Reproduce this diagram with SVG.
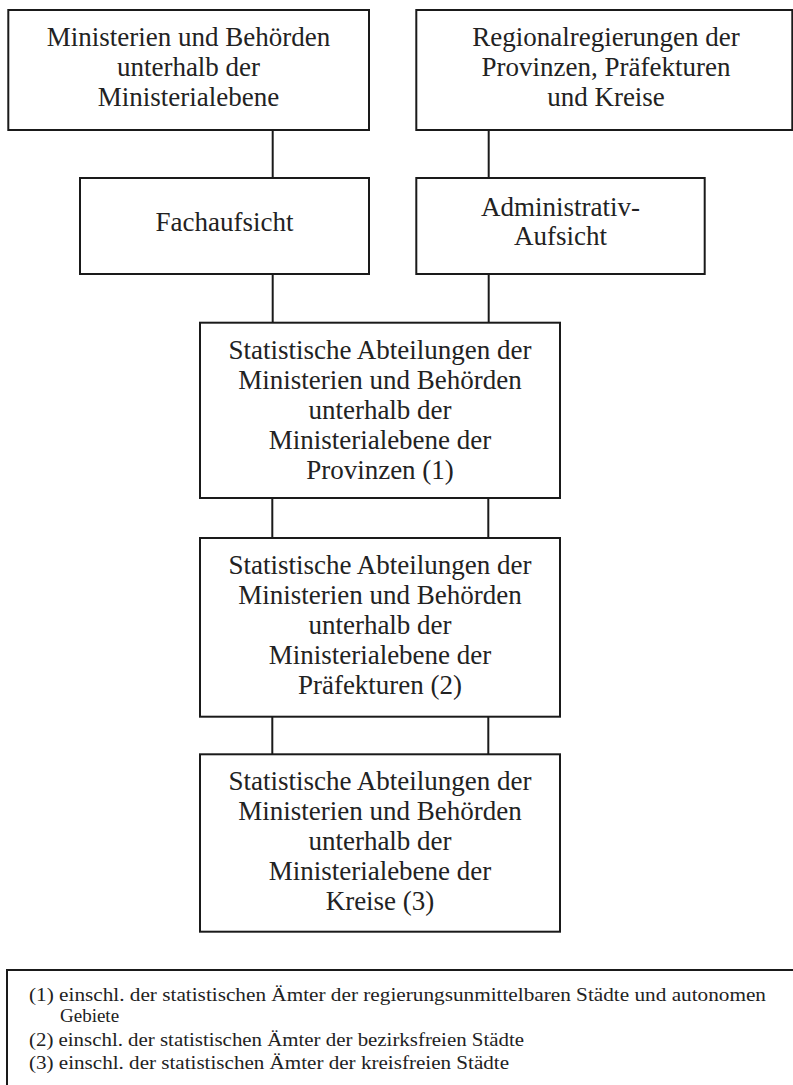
<svg xmlns="http://www.w3.org/2000/svg" width="793" height="1085" viewBox="0 0 793 1085">
<style>
.box{fill:#fff;stroke:#1a1a1a;stroke-width:2}
.t{font-family:"Liberation Serif","Times New Roman",serif;font-size:27px;fill:#222;text-anchor:middle}
.fn{font-family:"Liberation Serif","Times New Roman",serif;font-size:19px;fill:#222}
.c{stroke:#1a1a1a;stroke-width:2;fill:none}
</style>
<rect width="793" height="1085" fill="#fff"/>
<g id="connectors">
<line class="c" x1="272.7" y1="130" x2="272.7" y2="178"/>
<line class="c" x1="488.7" y1="130" x2="488.7" y2="178"/>
<line class="c" x1="272.7" y1="274" x2="272.7" y2="322.7"/>
<line class="c" x1="488.7" y1="274" x2="488.7" y2="322.7"/>
<line class="c" x1="272.3" y1="498" x2="272.3" y2="538"/>
<line class="c" x1="488.3" y1="498" x2="488.3" y2="538"/>
<line class="c" x1="272.3" y1="716.7" x2="272.3" y2="754.3"/>
<line class="c" x1="488.3" y1="716.7" x2="488.3" y2="754.3"/>
</g>
<g id="n1">
<rect class="box" x="8.3" y="10" width="360.7" height="120"/>
<text class="t" x="188.5" y="46">Ministerien und Behörden</text>
<text class="t" x="188.5" y="76">unterhalb der</text>
<text class="t" x="188.5" y="106">Ministerialebene</text>
</g>
<g id="n2">
<rect class="box" x="416.3" y="10" width="376" height="120"/>
<text class="t" x="606" y="46">Regionalregierungen der</text>
<text class="t" x="606" y="76">Provinzen, Präfekturen</text>
<text class="t" x="606" y="106">und Kreise</text>
</g>
<g id="n3">
<rect class="box" x="80" y="178" width="289" height="96"/>
<text class="t" x="224.5" y="231">Fachaufsicht</text>
</g>
<g id="n4">
<rect class="box" x="416.3" y="178" width="288.4" height="96"/>
<text class="t" x="560.5" y="216">Administrativ-</text>
<text class="t" x="560.5" y="245">Aufsicht</text>
</g>
<g id="n5">
<rect class="box" x="200" y="322.7" width="360" height="175.3"/>
<text class="t" x="380" y="359">Statistische Abteilungen der</text>
<text class="t" x="380" y="389">Ministerien und Behörden</text>
<text class="t" x="380" y="419">unterhalb der</text>
<text class="t" x="380" y="449">Ministerialebene der</text>
<text class="t" x="380" y="479">Provinzen (1)</text>
</g>
<g id="n6">
<rect class="box" x="200" y="538" width="360" height="178.7"/>
<text class="t" x="380" y="574">Statistische Abteilungen der</text>
<text class="t" x="380" y="604">Ministerien und Behörden</text>
<text class="t" x="380" y="634">unterhalb der</text>
<text class="t" x="380" y="664">Ministerialebene der</text>
<text class="t" x="380" y="694">Präfekturen (2)</text>
</g>
<g id="n7">
<rect class="box" x="200" y="754.3" width="360" height="177.4"/>
<text class="t" x="380" y="790">Statistische Abteilungen der</text>
<text class="t" x="380" y="820">Ministerien und Behörden</text>
<text class="t" x="380" y="850">unterhalb der</text>
<text class="t" x="380" y="880">Ministerialebene der</text>
<text class="t" x="380" y="910">Kreise (3)</text>
</g>
<g id="footnotes">
<rect class="box" x="7" y="970" width="800" height="130"/>
<text class="fn" x="29" y="1001" textLength="737" lengthAdjust="spacingAndGlyphs">(1) einschl. der statistischen Ämter der regierungsunmittelbaren Städte und autonomen</text>
<text class="fn" x="60" y="1022">Gebiete</text>
<text class="fn" x="29" y="1046" textLength="495" lengthAdjust="spacingAndGlyphs">(2) einschl. der statistischen Ämter der bezirksfreien Städte</text>
<text class="fn" x="29" y="1069" textLength="480" lengthAdjust="spacingAndGlyphs">(3) einschl. der statistischen Ämter der kreisfreien Städte</text>
</g>
</svg>
